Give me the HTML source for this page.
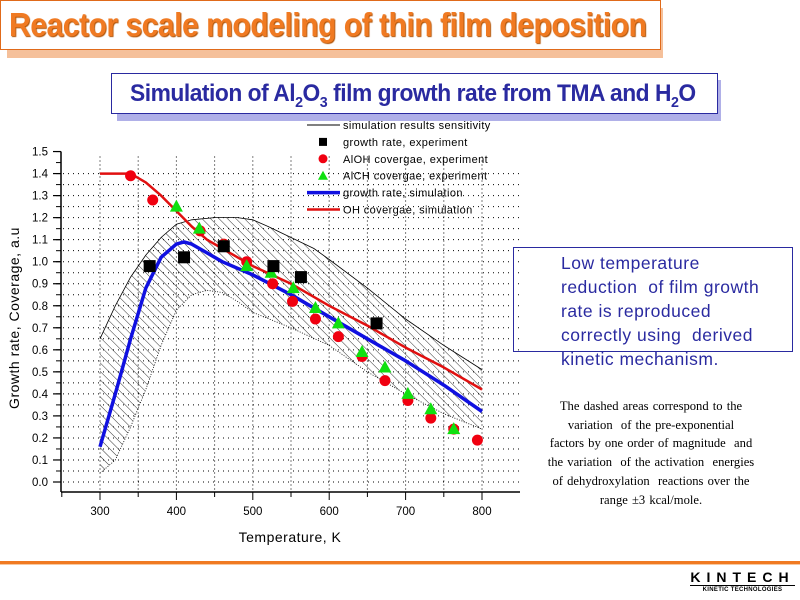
<!DOCTYPE html>
<html><head><meta charset="utf-8">
<style>
body{margin:0;width:800px;height:600px;background:#fff;position:relative;overflow:hidden;font-family:"Liberation Sans",sans-serif}
.abs{position:absolute}
</style></head><body>
<div class="abs" style="left:7px;top:8px;width:656px;height:50px;background:#f5c09a"></div>
<div class="abs" style="left:0;top:0;width:661px;height:50px;background:#fff;border:1px solid #e06a1a;box-sizing:border-box;"></div>
<div class="abs" style="left:9px;top:1px;color:#f07a22;font-weight:bold;font-size:33px;line-height:48px;letter-spacing:-0.6px;white-space:nowrap;text-shadow:1px 1px 1px #b05000;transform:scaleX(0.915);transform-origin:0 0">Reactor scale modeling of thin film deposition</div>
<div class="abs" style="left:117px;top:80px;width:604px;height:41px;background:#b0b0e8"></div>
<div class="abs" style="left:111px;top:73px;width:607px;height:41px;background:#fff;border:1px solid #2a2aa0;box-sizing:border-box;"></div>
<div class="abs" style="left:130px;top:74px;color:#2a2aa0;font-weight:bold;font-size:24px;line-height:39px;letter-spacing:-0.5px;white-space:nowrap;transform:scaleX(0.95);transform-origin:0 0">Simulation of Al<sub style="font-size:15px">2</sub>O<sub style="font-size:15px">3</sub> film growth rate from TMA and H<sub style="font-size:15px">2</sub>O</div>

<svg class="abs" style="left:0;top:0" width="800" height="600">
<defs><pattern id="hatch" width="6" height="6" patternUnits="userSpaceOnUse" patternTransform="rotate(-45)"><line x1="0" y1="0" x2="0" y2="6" stroke="#000" stroke-width="0.8"/></pattern></defs>
<g id="grid"></g><g id="band"></g><g id="lines"></g><g id="marks"></g><g id="axes"></g><g id="legend"></g>
</svg>

<div class="abs" style="left:513px;top:247px;width:280px;height:105px;border:1px solid #2a2aa0;box-sizing:border-box"></div>
<div class="abs" style="left:561px;top:251px;width:230px;color:#2a2aa0;font-size:17.5px;line-height:24px;letter-spacing:0.5px;white-space:nowrap">Low temperature<br>reduction &nbsp;of film growth<br>rate is reproduced<br>correctly using &nbsp;derived<br>kinetic mechanism.</div>
<div class="abs" style="left:516px;top:397px;width:270px;text-align:center;font-family:'Liberation Serif',serif;font-size:12.6px;line-height:18.7px;color:#000;word-spacing:1px;white-space:nowrap">The dashed areas correspond to the<br>variation &nbsp;of the pre-exponential<br>factors by one order of magnitude &nbsp;and<br>the variation &nbsp;of the activation &nbsp;energies<br>of dehydroxylation &nbsp;reactions over the<br>range ±3 kcal/mole.</div>
<div class="abs" style="left:0;top:561px;width:800px;height:3px;background:#f07a22"></div>
<div class="abs" style="left:0;top:564px;width:800px;height:1px;background:#f8c8a0"></div>
<div class="abs" style="left:690px;top:570px;width:105px;text-align:center">
<div style="font-weight:bold;font-size:14px;letter-spacing:6px;line-height:15px;border-bottom:1.5px solid #000">KINTECH</div>
<div style="font-weight:bold;font-size:6px;line-height:8px;letter-spacing:0.3px">KINETIC TECHNOLOGIES</div></div>

<script>
const sqT=[365,410,462,527,563,662];
const sqV=[0.98,1.02,1.07,0.98,0.93,0.72];
const ciT=[340,369,431,462,492,526,552,582,612,643,673,703,733,763,794];
const ciV=[1.39,1.28,1.14,1.08,1.0,0.9,0.82,0.74,0.66,0.57,0.46,0.37,0.29,0.24,0.19];
const trT=[400,430,462,492,524,553,582,612,643,673,703,733,763];
const trV=[1.25,1.15,1.07,0.98,0.95,0.88,0.79,0.72,0.59,0.52,0.40,0.33,0.24];
const redT=[300,340,360,380,400,420,440,460,480,500,550,600,650,700,750,800];
const redV=[1.4,1.4,1.36,1.3,1.23,1.16,1.1,1.06,1.02,0.98,0.9,0.8,0.71,0.61,0.52,0.42];
const blueT=[300,320,340,360,380,400,410,420,440,460,500,550,600,650,700,750,800];
const blueV=[0.16,0.4,0.65,0.88,1.02,1.08,1.09,1.08,1.04,1.0,0.94,0.85,0.75,0.65,0.55,0.44,0.32];
const upT=[300,320,340,360,380,400,420,450,480,500,520,550,580,600,650,700,750,800];
const upV=[0.65,0.8,0.93,1.03,1.11,1.17,1.19,1.2,1.2,1.19,1.16,1.11,1.06,1.01,0.88,0.74,0.62,0.51];
const loT=[300,320,340,360,380,400,420,440,460,480,500,550,600,650,700,750,800];
const loV=[0.04,0.1,0.25,0.42,0.62,0.78,0.85,0.87,0.86,0.82,0.77,0.7,0.62,0.5,0.4,0.31,0.24];
const xTicks=[300,400,500,600,700,800];
const yTicks=[0.0,0.1,0.2,0.3,0.4,0.5,0.6,0.7,0.8,0.9,1.0,1.1,1.2,1.3,1.4,1.5];

const X=t=>100+(t-300)*382/500;
const Y=v=>482-v*220.3;
const NS='http://www.w3.org/2000/svg';
function mk(p,tag,a){const e=document.createElementNS(NS,tag);for(const k in a)e.setAttribute(k,a[k]);document.getElementById(p).appendChild(e);return e;}
function pts(T,V){return T.map((t,i)=>X(t).toFixed(1)+','+Y(V[i]).toFixed(1));}

for(let t=300;t<=800;t+=50){const g=mk('grid','line',{x1:X(t),x2:X(t),y1:Y(1.5)+5,y2:490,stroke:'#000','stroke-width':1,'stroke-dasharray':'1,3'});

}
for(let v=0;v<=1.45;v+=0.05){const g=mk('grid','line',{x1:63,x2:520,y1:Y(v),y2:Y(v),stroke:'#000','stroke-width':1,'stroke-dasharray':'1,4'});

}

const bp=pts(upT,upV).concat(pts(loT,loV).reverse());
const band=mk('band','polygon',{points:bp.join(' '),fill:'url(#hatch)',stroke:'none'});


const bu=mk('band','polyline',{points:pts(upT,upV).join(' '),fill:'none',stroke:'#000','stroke-width':0.8});


const bl=mk('band','polyline',{points:pts(loT,loV).join(' '),fill:'none',stroke:'#000','stroke-width':0.8,'stroke-dasharray':'1,1.5'});



const rl=mk('lines','polyline',{points:pts(redT,redV).join(' '),fill:'none',stroke:'#e01010','stroke-width':2.5,'stroke-linejoin':'round'});


const bln=mk('lines','polyline',{points:pts(blueT,blueV).join(' '),fill:'none',stroke:'#1010e0','stroke-width':3.5,'stroke-linejoin':'round'});



ciT.forEach((t,i)=>{const c=mk('marks','circle',{cx:X(t),cy:Y(ciV[i]),r:5.5,fill:'#f00010'});

});
trT.forEach((t,i)=>{const x=X(t),y=Y(trV[i]);const p=mk('marks','polygon',{points:`${x},${y-7} ${x-6.5},${y+5} ${x+6.5},${y+5}`,fill:'#10e010'});

});
sqT.forEach((t,i)=>{const r=mk('marks','rect',{x:X(t)-6,y:Y(sqV[i])-6,width:12,height:12,fill:'#000'});

});

const ya=mk('axes','line',{x1:61,x2:61,y1:Y(1.5),y2:492,stroke:'#000','stroke-width':1.5});


const xa=mk('axes','line',{x1:61,x2:520,y1:492,y2:492,stroke:'#000','stroke-width':1.5});


for(let v=0;v<=1.5001;v+=0.05){mk('axes','line',{x1:56,x2:61,y1:Y(v),y2:Y(v),stroke:'#000','stroke-width':1});}
yTicks.forEach(v=>{mk('axes','line',{x1:53,x2:61,y1:Y(v),y2:Y(v),stroke:'#000','stroke-width':1.2});
const tx=mk('axes','text',{x:48,y:Y(v)+4,'text-anchor':'end','font-size':11.5,'font-family':'Liberation Sans, sans-serif'});tx.textContent=v.toFixed(1);

});
for(let t=250;t<=850;t+=50){if(X(t)<61||X(t)>520)continue;mk('axes','line',{x1:X(t),x2:X(t),y1:492,y2:t%100==0?500:497,stroke:'#000','stroke-width':1});}
xTicks.forEach(t=>{const tx=mk('axes','text',{x:X(t),y:515,'text-anchor':'middle','font-size':11.5,'font-family':'Liberation Sans, sans-serif'});tx.textContent=t;

});
const xt=mk('axes','text',{x:290,y:542,'text-anchor':'middle','font-size':14,'letter-spacing':'0.5','font-family':'Liberation Sans, sans-serif'});xt.textContent='Temperature, K';


const yt=mk('axes','text',{x:0,y:0,transform:'translate(19,318) rotate(-90)','text-anchor':'middle','font-size':14,'letter-spacing':'0.5','font-family':'Liberation Sans, sans-serif'});yt.textContent='Growth rate, Coverage, a.u';



const leg=[['simulation results sensitivity','thin'],['growth rate, experiment','sq'],['AlOH covergae, experiment','ci'],['AlCH covergae, experiment','tr'],['growth rate, simulation','blue'],['OH covergae, simulation','red']];
leg.forEach((l,i)=>{const y=125+i*16.9;const cx=323;
if(l[1]=='thin')mk('legend','line',{x1:307,x2:340,y1:y,y2:y,stroke:'#000','stroke-width':1});
if(l[1]=='blue')mk('legend','line',{x1:307,x2:340,y1:y,y2:y,stroke:'#1010e0','stroke-width':3.5});
if(l[1]=='red')mk('legend','line',{x1:307,x2:340,y1:y,y2:y,stroke:'#e01010','stroke-width':2.5});
if(l[1]=='sq')mk('legend','rect',{x:cx-4,y:y-4,width:8,height:8,fill:'#000'});
if(l[1]=='ci')mk('legend','circle',{cx:cx,cy:y,r:4.5,fill:'#f00010'});
if(l[1]=='tr')mk('legend','polygon',{points:`${cx},${y-5} ${cx-5},${y+4} ${cx+5},${y+4}`,fill:'#10e010'});
const tx=mk('legend','text',{x:343,y:y+4,'font-size':11,'letter-spacing':'0.4','font-family':'Liberation Sans, sans-serif'});tx.textContent=l[0];

});
</script>
</body></html>
